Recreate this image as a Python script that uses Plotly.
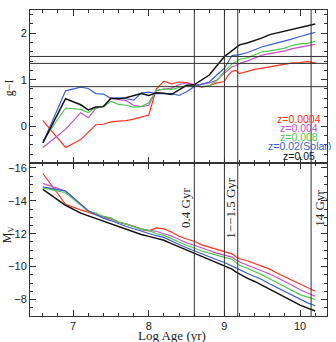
import numpy as np
import plotly.graph_objects as go
from plotly.subplots import make_subplots

log_age = [6.6, 6.9, 7.1, 7.2, 7.3, 7.4, 7.5, 7.6, 7.7, 7.8, 7.9, 8.0, 8.1, 8.2, 8.3, 8.4,
           8.5, 8.6, 8.7, 8.8, 8.9, 9.0, 9.05, 9.1, 9.15, 9.2, 9.3, 9.4, 9.5, 9.6, 9.7,
           9.8, 9.9, 10.0, 10.1, 10.2]

series_names = ["z=0.0004", "z=0.004", "z=0.008", "z=0.02(Solar)", "z=0.05"]
series_colors = ["#ff3322", "#c24fc8", "#4fc84f", "#3a5fd0", "#111111"]

gi_z0004 = [0.12, -0.46, -0.29, -0.12, 0.03, 0.04, 0.09, 0.11, 0.12, 0.15, 0.19, 0.24, 0.80, 0.97,
            0.91, 0.95, 0.94, 0.89, 0.84, 0.87, 0.93, 0.96, 1.10, 1.18, 1.20, 1.13, 1.18, 1.22,
            1.25, 1.28, 1.31, 1.34, 1.36, 1.37, 1.39, 1.36]
gi_z004 = [-0.46, -0.07, 0.29, 0.18, 0.38, 0.43, 0.60, 0.58, 0.55, 0.45, 0.42, 0.45, 0.76, 0.80,
           0.82, 0.89, 0.93, 0.89, 0.90, 0.93, 0.99, 1.14, 1.22, 1.28, 1.30, 1.35, 1.40, 1.46,
           1.53, 1.56, 1.59, 1.62, 1.67, 1.70, 1.73, 1.76]
gi_z008 = [-0.32, 0.39, 0.36, 0.29, 0.40, 0.42, 0.53, 0.47, 0.45, 0.41, 0.42, 0.50, 0.77, 0.80,
           0.79, 0.83, 0.87, 0.87, 0.85, 0.87, 0.98, 1.18, 1.26, 1.34, 1.38, 1.44, 1.47, 1.53,
           1.60, 1.62, 1.65, 1.68, 1.74, 1.77, 1.78, 1.83]
gi_z02 = [-0.36, 0.76, 0.84, 0.81, 0.70, 0.69, 0.60, 0.61, 0.59, 0.56, 0.71, 0.73, 0.70, 0.70,
          0.70, 0.66, 0.74, 0.85, 0.90, 0.95, 1.10, 1.25, 1.38, 1.52, 1.53, 1.54, 1.58, 1.64,
          1.71, 1.75, 1.79, 1.83, 1.88, 1.93, 1.97, 2.02]
gi_z05 = [-0.36, 0.59, 0.46, 0.35, 0.41, 0.42, 0.60, 0.59, 0.61, 0.66, 0.70, 0.66, 0.72, 0.71,
          0.68, 0.78, 0.88, 0.89, 0.99, 1.10, 1.30, 1.50, 1.56, 1.62, 1.70, 1.75, 1.79, 1.84,
          1.90, 1.97, 2.01, 2.04, 2.09, 2.13, 2.16, 2.20]

mv_z0004 = [-15.66, -13.79, -13.45, -13.30, -13.12, -13.0, -12.9, -12.7, -12.58, -12.45, -12.25,
            -12.18, -12.35, -12.30, -12.10, -11.85, -11.68, -11.54, -11.32, -11.18, -11.05,
            -10.9, -10.84, -10.78, -10.62, -10.48, -10.36, -10.2, -10.0, -9.85, -9.6, -9.38,
            -9.15, -8.9, -8.72, -8.5]
mv_z004 = [-15.06, -14.6, -13.8, -13.4, -13.2, -13.05, -12.95, -12.7, -12.6, -12.45, -12.3, -12.2,
           -12.15, -12.0, -11.86, -11.65, -11.45, -11.3, -11.12, -10.98, -10.82, -10.68, -10.62,
           -10.58, -10.42, -10.28, -10.1, -9.92, -9.75, -9.55, -9.32, -9.1, -8.85, -8.6, -8.42,
           -8.2]
mv_z008 = [-14.79, -14.49, -13.75, -13.35, -13.25, -13.05, -12.95, -12.72, -12.58, -12.42, -12.28,
           -12.2, -12.0, -11.9, -11.72, -11.5, -11.3, -11.1, -10.95, -10.82, -10.68, -10.55,
           -10.5, -10.45, -10.25, -10.08, -9.9, -9.7, -9.5, -9.25, -9.02, -8.78, -8.55, -8.3,
           -8.15, -8.0]
mv_z02 = [-14.85, -14.59, -13.8, -13.39, -13.15, -12.95, -12.8, -12.6, -12.44, -12.3, -12.15,
          -12.0, -11.88, -11.78, -11.55, -11.35, -11.15, -10.96, -10.8, -10.62, -10.42, -10.25,
          -10.15, -10.05, -9.95, -9.82, -9.6, -9.4, -9.2, -8.95, -8.72, -8.48, -8.25, -8.0,
          -7.8, -7.62]
mv_z05 = [-14.70, -13.73, -13.25, -13.09, -12.95, -12.75, -12.62, -12.45, -12.28, -12.12, -11.95,
          -11.84, -11.72, -11.6, -11.4, -11.2, -11.02, -10.84, -10.62, -10.45, -10.22, -10.02,
          -9.95, -9.85, -9.68, -9.55, -9.3, -9.1, -8.85, -8.6, -8.4, -8.15, -7.9, -7.66,
          -7.48, -7.3]

gi_series = [gi_z0004, gi_z004, gi_z008, gi_z02, gi_z05]
mv_series = [mv_z0004, mv_z004, mv_z008, mv_z02, mv_z05]

ref_color_cuts = [1.5, 1.35, 0.85]
ref_ages_gyr = [0.4, 1.0, 1.5, 14.0]
age_labels = ["0.4 Gyr", "1\u2212\u22121.5 Gyr", "14 Gyr"]
age_label_pos = [8.483, 9.088, 10.263]

fig = make_subplots(rows=2, cols=1, shared_xaxes=True, vertical_spacing=0)

for name, col, gi, mv in zip(series_names, series_colors, gi_series, mv_series):
    w = 1.5 if col == "#111111" else 1.2
    fig.add_trace(go.Scatter(x=log_age, y=gi, mode="lines", name=name,
                             line=dict(color=col, width=w)), row=1, col=1)
    fig.add_trace(go.Scatter(x=log_age, y=mv, mode="lines", name=name, showlegend=False,
                             line=dict(color=col, width=w)), row=2, col=1)

for c in ref_color_cuts:
    fig.add_shape(type="line", xref="x domain", yref="y", x0=0, x1=1, y0=c, y1=c,
                  line=dict(color="#333333", width=1))
for a in ref_ages_gyr:
    la = np.log10(a * 1e9)
    fig.add_shape(type="line", xref="x", yref="paper", x0=la, x1=la, y0=0, y1=1,
                  line=dict(color="#333333", width=1))

serif = "Liberation Serif"
sans = "Liberation Sans"

for txt, xp in zip(age_labels, age_label_pos):
    fig.add_annotation(text=txt, x=xp, xref="x2", y=0.354, yref="paper", textangle=-90,
                       showarrow=False, font=dict(family=serif, size=13, color="#222222"),
                       xanchor="center", yanchor="middle")

leg_y = [0.647, 0.617, 0.588, 0.557, 0.526]
for name, col, yy in zip(series_names, series_colors, leg_y):
    fig.add_annotation(text=name, x=0.907, xref="paper", y=yy, yref="paper",
                       showarrow=False, font=dict(family=sans, size=10.5, color=col),
                       xanchor="center", yanchor="middle", height=9, borderpad=0)

fig.add_annotation(text="g\u2212I", x=-0.068, xref="paper", y=(316 - 86) / 308, yref="paper",
                   textangle=-90, showarrow=False, font=dict(family=serif, size=12, color="#222222"),
                   xanchor="center", yanchor="middle")
fig.add_annotation(text="M<sub>V</sub>", x=-0.075, xref="paper", y=(316 - 234) / 308, yref="paper",
                   textangle=-90, showarrow=False, font=dict(family=serif, size=12, color="#222222"),
                   xanchor="center", yanchor="middle")
fig.add_annotation(text="Log Age (yr)", x=0.477, xref="paper", y=(316 - 336) / 308, yref="paper",
                   showarrow=False, font=dict(family=serif, size=13, color="#222222"),
                   xanchor="center", yanchor="middle", borderpad=0)

axis_common = dict(showline=True, linecolor="#333333", linewidth=1, mirror="allticks",
                   ticks="inside", ticklen=6, tickcolor="#333333", showgrid=False,
                   zeroline=False, tickfont=dict(family=sans, size=11, color="#222222"))

fig.update_xaxes(range=[6.43, 10.356], tick0=7, dtick=1,
                 minor=dict(dtick=0.2, ticklen=3, ticks="inside", tickcolor="#333333"),
                 **axis_common)
fig.update_xaxes(showticklabels=False, row=1, col=1)
fig.update_yaxes(range=[-0.8, 2.5], tick0=0, dtick=1,
                 minor=dict(dtick=0.2, ticklen=3, ticks="inside", tickcolor="#333333"),
                 domain=[0.499, 1.0], row=1, col=1, **axis_common)
fig.update_yaxes(range=[-7, -16.28], tick0=0, dtick=2,
                 minor=dict(dtick=0.5, ticklen=3, ticks="inside", tickcolor="#333333"),
                 domain=[0.0, 0.499], row=2, col=1, **axis_common)

fig.update_layout(width=336, height=342, margin=dict(l=27, r=9, t=8, b=26),
                  showlegend=False, plot_bgcolor="white", paper_bgcolor="white")

fig.write_html("out.html", config={"displayModeBar": False})
